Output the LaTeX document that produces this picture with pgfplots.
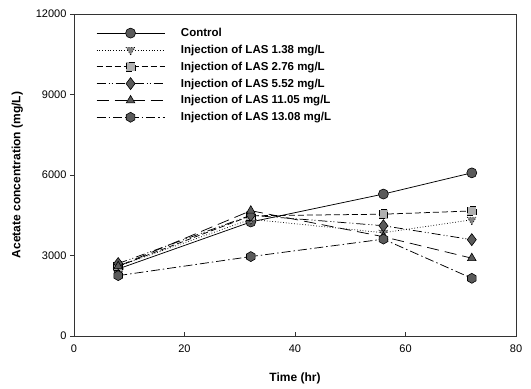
\documentclass[border=0pt]{standalone}
\usepackage{fontspec}
\setmainfont{Liberation Sans}
\usepackage{pgfplots}
\pgfplotsset{compat=1.18}
\definecolor{mk}{HTML}{5A5A5A}
\definecolor{mksq}{HTML}{B0B0B0}
\pgfdeclareplotmark{hexagon*}{%
  \pgfpathmoveto{\pgfqpointpolar{90}{\pgfplotmarksize}}%
  \pgfpathlineto{\pgfqpointpolar{150}{\pgfplotmarksize}}%
  \pgfpathlineto{\pgfqpointpolar{210}{\pgfplotmarksize}}%
  \pgfpathlineto{\pgfqpointpolar{270}{\pgfplotmarksize}}%
  \pgfpathlineto{\pgfqpointpolar{330}{\pgfplotmarksize}}%
  \pgfpathlineto{\pgfqpointpolar{30}{\pgfplotmarksize}}%
  \pgfpathclose
  \pgfusepathqfillstroke}
\begin{document}
\begin{tikzpicture}
\begin{axis}[name=ax,
  scale only axis, width=442pt, height=322pt,
  xmin=0, xmax=80, ymin=0, ymax=12000,
  xtick={0,20,40,60,80}, ytick={0,3000,6000,9000,12000},
  xtick pos=bottom, ytick pos=left,
  xtick align=inside, ytick align=outside,
  major tick length=4pt,
  scaled y ticks=false,
  /pgf/number format/assume math mode=true,
  /pgf/number format/set thousands separator={},
  tick label style={font=\fontsize{11}{13}\selectfont},
  xticklabel style={yshift=-5pt},
  xlabel={\textbf{Time (hr)}}, ylabel={\textbf{Acetate concentration (mg/L)}},
  label style={font=\fontsize{12}{14}\selectfont},
  xlabel style={yshift=-14pt},
  ylabel style={yshift=6pt},
  axis line style={line width=0.9pt, black!80},
  every tick/.style={black!80, line width=0.8pt},
  legend cell align=left,
  legend style={draw=none, fill=none, at={(19/442,1-10/322)}, anchor=north west,
    font=\bfseries\fontsize{11.5}{13}\selectfont, row sep=3.0pt,
    /tikz/every odd column/.append style={column sep=14pt}},
  legend image code/.code={\draw[mark repeat=2,mark phase=2] plot coordinates {(0pt,0pt) (34pt,0pt) (68pt,0pt)};},
  every axis plot/.append style={line width=0.75pt, black, mark size=5pt,
     mark options={fill=mk, draw=black, line width=0.6pt, solid}},
]
\addplot[mark=*] coordinates {(8,2500) (32,4250) (56,5290) (72,6080)};
\addlegendentry{Control}
\addplot[dotted, mark=triangle*, mark options={rotate=180, fill=mk!75}] coordinates {(8,2600) (32,4350) (56,3850) (72,4330)};
\addlegendentry{Injection of LAS 1.38 mg/L}
\addplot[dash pattern=on 6pt off 3pt, mark=square*, mark size=4.4pt, mark options={fill=mksq}] coordinates {(8,2600) (32,4480) (56,4540) (72,4660)};
\addlegendentry{Injection of LAS 2.76 mg/L}
\addplot[dash pattern=on 9pt off 3pt on 1pt off 2pt on 1pt off 3pt, mark=diamond*, mark size=6pt] coordinates {(8,2700) (32,4500) (56,4110) (72,3590)};
\addlegendentry{Injection of LAS 5.52 mg/L}
\addplot[dash pattern=on 12pt off 6pt, mark=triangle*] coordinates {(8,2600) (32,4670) (56,3700) (72,2900)};
\addlegendentry{Injection of LAS 11.05 mg/L}
\addplot[dash pattern=on 9pt off 3pt on 1.5pt off 3pt, mark=hexagon*] coordinates {(8,2250) (32,2960) (56,3610) (72,2150)};
\addlegendentry{Injection of LAS 13.08 mg/L}
\end{axis}
\pgfresetboundingbox
\path ([xshift=-74pt,yshift=-52pt]ax.south west) rectangle ([xshift=15pt,yshift=14pt]ax.north east);
\end{tikzpicture}
\end{document}
